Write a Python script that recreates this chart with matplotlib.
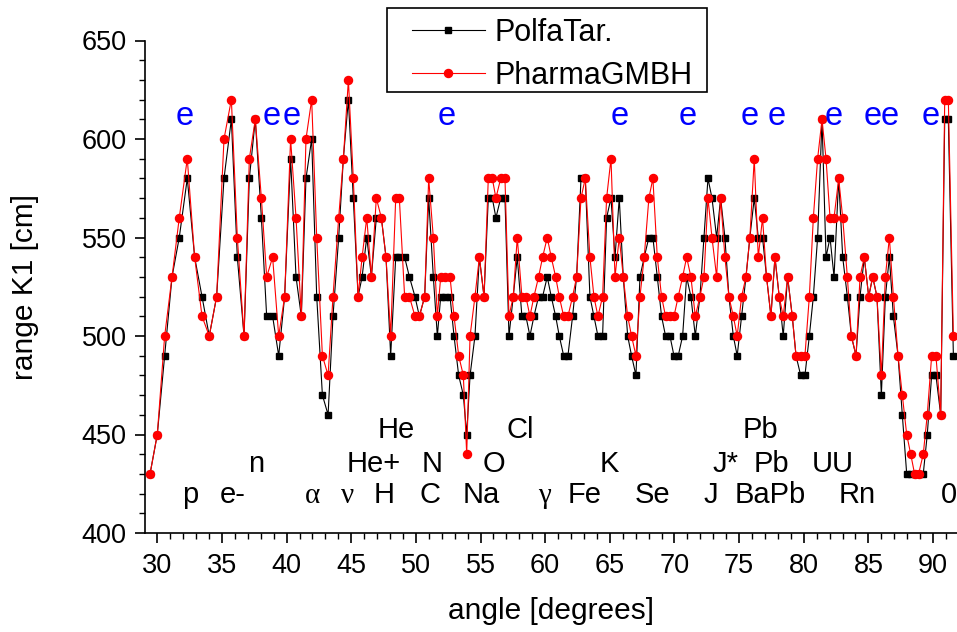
import matplotlib
matplotlib.use("Agg")
import matplotlib.pyplot as plt
from matplotlib.lines import Line2D
from matplotlib.patches import Rectangle
from matplotlib.ticker import MultipleLocator

plt.rcParams['font.family'] = ['Liberation Sans', 'DejaVu Sans']

angle = [29.44, 30.00, 30.57, 31.14, 31.70, 32.32, 32.89, 33.46, 34.02, 34.59, 35.16, 35.73, 36.19, 36.71,
         37.12, 37.58, 38.05, 38.46, 38.92, 39.39, 39.85, 40.31, 40.73, 41.14, 41.50,
         41.94, 42.33, 42.77, 43.21, 43.59, 44.03, 44.39, 44.78, 45.16, 45.53, 45.84, 46.20, 46.56, 46.94,
         47.33, 47.69, 48.05, 48.44, 48.72, 49.13, 49.50, 49.93, 50.27, 50.68, 50.99, 51.35, 51.66, 51.92,
         52.28, 52.64, 52.95, 53.31, 53.67, 53.93, 54.19,
         54.57, 54.91, 55.27, 55.60, 55.91, 56.19, 56.56, 56.89, 57.20, 57.53, 57.84, 58.20, 58.51, 58.82,
         59.13, 59.49, 59.80, 60.16, 60.47, 60.81, 61.09, 61.43, 61.76, 62.12, 62.43, 62.77, 63.10, 63.46,
         63.77, 64.08, 64.44, 64.75, 65.09, 65.40, 65.73, 66.04, 66.38,
         66.68, 67.02, 67.33, 67.66, 68.02, 68.33, 68.67, 69.00, 69.31, 69.65, 69.96, 70.29, 70.63, 70.94,
         71.27, 71.61, 71.97, 72.28, 72.59, 72.90, 73.26, 73.57, 73.90, 74.21, 74.55, 74.85, 75.19, 75.53,
         75.83, 76.17, 76.48, 76.81, 77.12, 77.46, 77.77, 78.10, 78.41, 78.75,
         79.11, 79.40, 79.76, 80.09, 80.43, 80.74, 81.07, 81.41, 81.72, 82.03, 82.34, 82.70, 83.01, 83.37,
         83.68, 84.04, 84.35, 84.68, 85.02, 85.33, 85.66, 86.00, 86.31, 86.62, 86.93, 87.29, 87.62, 87.96,
         88.27, 88.57, 88.88, 89.24, 89.55, 89.89, 90.22, 90.59, 90.90, 91.18, 91.57]

pharma = [430, 450, 500, 530, 560, 590, 540, 510, 500, 520, 600, 620, 550, 500, 590, 610, 570, 530, 540, 500,
          520, 600, 560, 510, 600,
          620, 550, 490, 480, 520, 560, 590, 630, 580, 520, 540, 560, 530, 570, 560, 540, 500, 570, 570, 520,
          520, 510, 510, 520, 580, 550, 510, 530, 530, 530, 510, 490, 480, 440, 500,
          520, 540, 520, 580, 580, 570, 580, 580, 510, 520, 550, 520, 520, 510, 520, 530, 540, 550, 540, 530,
          520, 510, 510, 520, 530, 570, 580, 540, 520, 510, 520, 570, 590, 530, 550, 530, 510,
          500, 490, 520, 540, 570, 580, 540, 520, 510, 510, 510, 520, 530, 540, 530, 510, 520, 530, 570, 550,
          530, 570, 540, 520, 510, 500, 520, 530, 550, 590, 540, 560, 530, 510, 540, 520, 510, 530,
          510, 490, 490, 490, 520, 560, 590, 610, 590, 560, 560, 580, 560, 530, 500, 490, 530, 540, 520, 530,
          520, 480, 530, 550, 520, 490, 470, 450, 440, 430, 430, 440, 460, 490, 490, 460, 620, 620, 500]

polfa = [430, 450, 490, 530, 550, 580, 540, 520, 500, 520, 580, 610, 540, 500, 580, 610, 560, 510, 510, 490,
         520, 590, 530, 510, 580,
         600, 520, 470, 460, 510, 550, 590, 620, 570, 520, 530, 550, 530, 560, 560, 540, 490, 540, 540, 540,
         530, 520, 510, 520, 570, 530, 500, 520, 520, 520, 500, 480, 470, 450, 480,
         500, 540, 520, 570, 570, 560, 570, 570, 500, 520, 540, 510, 510, 500, 510, 520, 520, 530, 520, 510,
         500, 490, 490, 510, 530, 580, 580, 520, 510, 500, 500, 560, 570, 540, 570, 530, 500,
         490, 480, 530, 540, 550, 550, 530, 510, 500, 500, 490, 490, 500, 530, 520, 500, 520, 550, 580, 570,
         550, 570, 550, 520, 500, 490, 510, 530, 550, 570, 550, 550, 530, 510, 540, 520, 500, 530,
         510, 490, 480, 480, 500, 520, 550, 610, 540, 550, 530, 580, 540, 520, 500, 490, 520, 540, 520, 530,
         520, 470, 520, 540, 510, 490, 460, 430, 430, 430, 430, 430, 450, 480, 480, 460, 610, 610, 490]

series_names = ['PolfaTar.', 'PharmaGMBH']

e_angles = [32.14, 38.85, 40.36, 52.41, 65.73, 70.99, 75.84, 77.90, 82.34, 85.30, 86.61, 89.78]
e_level = 607

label_texts = ['p', 'e-', 'n', 'α', 'ν', 'H', 'He+', 'He', 'N', 'C', 'Na', 'O', 'Cl', 'γ', 'Fe', 'K',
               'Se', 'Pb', 'J*', 'Pb', 'UU', 'J', 'BaPb', 'Rn', '0']
label_angles = [32.53, 35.85, 37.62, 41.99, 44.71, 47.53, 46.71, 48.46, 51.22, 51.11, 55.09, 56.04, 58.05,
                59.91, 63.08, 64.93, 68.28, 76.64, 73.91, 77.49, 82.21, 72.80, 77.37, 84.11, 91.21]
label_levels = [415, 415, 431, 415, 415, 415, 431, 448, 431, 415, 415, 431, 448,
                415, 415, 431, 415, 448, 431, 431, 431, 415, 415, 415, 415]

W, H = 957, 632
fig = plt.figure(figsize=(W / 100, H / 100), dpi=100)
ax = fig.add_axes([145 / W, (H - 533) / H, (W - 145) / W, (533 - 40.5) / H])

ax.plot(angle, polfa, color='black', lw=0.8, marker='s', ms=4.8, mec='black', mfc='black', zorder=3)
ax.plot(angle, pharma, color='#ff0000', lw=0.8, marker='o', ms=5.8, mec='#ff0000', mfc='#ff0000', zorder=4)

for xa in e_angles:
    ax.text(xa, e_level, 'e', color='#0000ff', fontsize=23.5, ha='center', va='baseline', zorder=5)

for t, xa, yl in zip(label_texts, label_angles, label_levels):
    if t in ('α', 'ν', 'γ'):
        ax.text(xa, yl, t, fontsize=21, ha='center', va='baseline',
                family=['Liberation Serif', 'DejaVu Serif'], zorder=5)
    else:
        ax.text(xa, yl, t, fontsize=21, ha='center', va='baseline', zorder=5)

ax.set_xlim(29.05, 91.85)
ax.set_ylim(400, 650)
ax.xaxis.set_major_locator(MultipleLocator(5))
ax.xaxis.set_minor_locator(MultipleLocator(1))
ax.yaxis.set_major_locator(MultipleLocator(50))
ax.yaxis.set_minor_locator(MultipleLocator(10))
for s in ('top', 'right'):
    ax.spines[s].set_visible(False)
for s in ('left', 'bottom'):
    ax.spines[s].set_linewidth(1.2)
ax.tick_params(which='major', direction='out', length=7.2, width=1.2, labelsize=19.5, pad=6)
ax.tick_params(which='minor', direction='out', length=4, width=1.0)
ax.tick_params(axis='x', which='major', pad=7)

fig.text(551 / W, (H - 619.3) / H, 'angle [degrees]', fontsize=21.5, ha='center', va='baseline')
fig.text(25 / W, (H - 287) / H, 'range K1 [cm]', fontsize=21.5, ha='center', va='center', rotation=90)

# legend frame and entries
fig.patches.append(Rectangle((387 / W, (H - 92) / H), (707 - 387) / W, (92 - 8) / H,
                             transform=fig.transFigure, fill=True, facecolor='white',
                             edgecolor='black', lw=1.2, zorder=10))
handles = [Line2D([], [], color='black', lw=0.8, marker='s', ms=4.8),
           Line2D([], [], color='#ff0000', lw=0.8, marker='o', ms=5.8)]
leg = fig.legend(handles, series_names, loc='upper left', bbox_to_anchor=(411.7 / W, 1 - 18 / H),
                 bbox_transform=fig.transFigure, frameon=False, fontsize=22, borderpad=0,
                 borderaxespad=0, handlelength=2.4, handletextpad=0.3, labelspacing=0.42)
leg.set_zorder(11)

fig.savefig('out.png', dpi=100)
